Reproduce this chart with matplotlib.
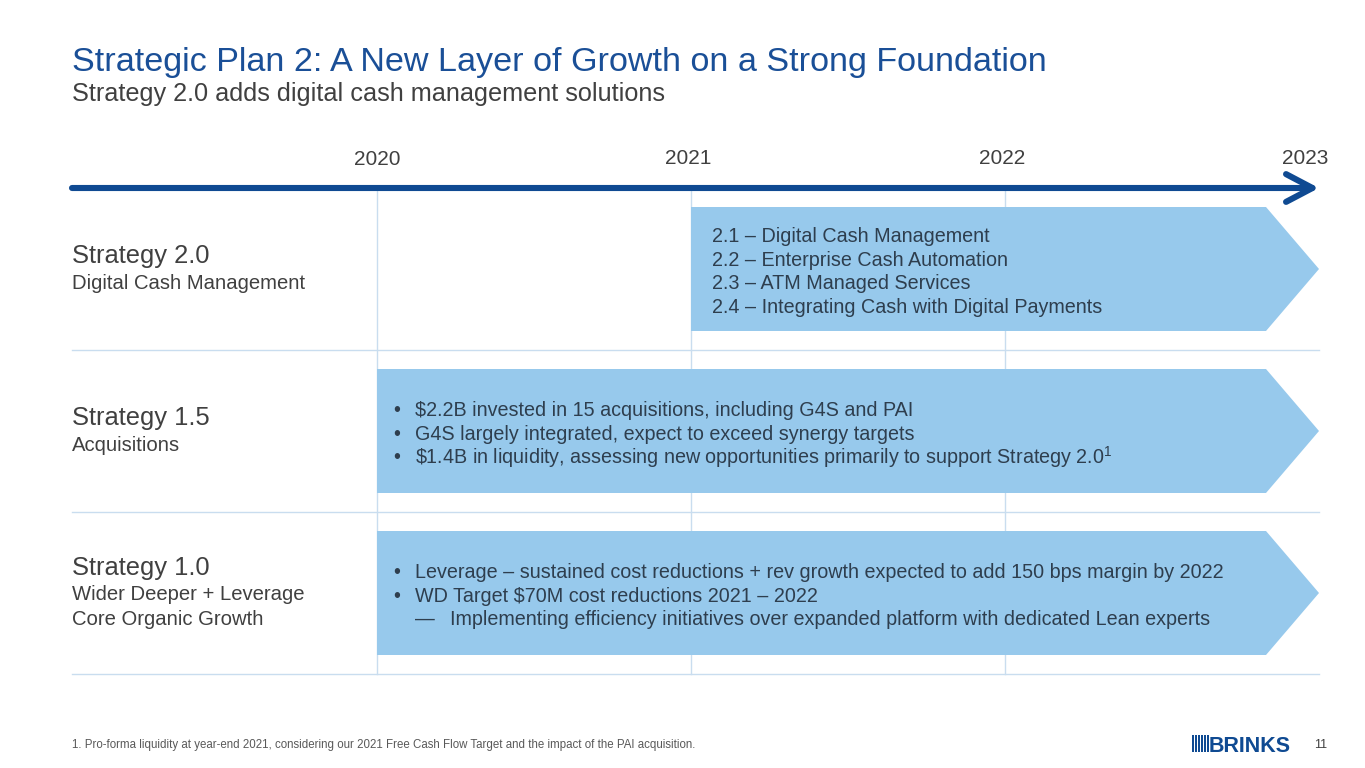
import matplotlib
matplotlib.use("Agg")
import matplotlib.pyplot as plt
from matplotlib.transforms import offset_copy
from matplotlib.patches import Rectangle

plt.rcParams['font.family'] = ['Liberation Sans', 'DejaVu Sans']

# --- data ---
years = [2020, 2021, 2022, 2023]
strategies = ["Strategy 2.0", "Strategy 1.5", "Strategy 1.0"]
subtitles = [["Digital Cash Management"],
             ["Acquisitions"],
             ["Wider Deeper + Leverage", "Core Organic Growth"]]
start_year = [2021, 2020, 2020]
end_year = [2023, 2023, 2023]
row_items = [
    [("", "2.1 – Digital Cash Management"),
     ("", "2.2 – Enterprise Cash Automation"),
     ("", "2.3 – ATM Managed Services"),
     ("", "2.4 – Integrating Cash with Digital Payments")],
    [("•", "$2.2B invested in 15 acquisitions, including G4S and PAI"),
     ("•", "G4S largely integrated, expect to exceed synergy targets"),
     ("•", r"\$1.4B in liquidity, assessing new opportunities primarily to support Strategy 2.0$^{\mathregular{1}}$")],
    [("•", "Leverage – sustained cost reductions + rev growth expected to add 150 bps margin by 2022"),
     ("•", "WD Target $70M cost reductions 2021 – 2022"),
     ("—", "Implementing efficiency initiatives over expanded platform with dedicated Lean experts")],
]
title = "Strategic Plan 2: A New Layer of Growth on a Strong Foundation"
subtitle = "Strategy 2.0 adds digital cash management solutions"
footnote = ("1. Pro-forma liquidity at year-end 2021, considering our 2021 Free Cash Flow "
            "Target and the impact of the PAI acquisition.")
page_no = "11"

# --- colours ---
dark_blue = "#0f4a92"
title_blue = "#1a4f97"
bar_blue = "#97c9ec"
grid_blue = "#c9ddef"
label_gray = "#404040"
bar_text = "#2e3e4e"

W, H = 1365, 768
fig = plt.figure(figsize=(W / 100, H / 100), dpi=100)
ax = fig.add_axes([0, 0, 1, 1])
ax.axis("off")

px_per_year = 314.0
px_per_row = 162.0
x0 = 2020 - 377 / px_per_year
ax.set_xlim(x0, x0 + W / px_per_year)
ax.set_ylim((H - 269) / px_per_row, -269 / px_per_row)

line_start = x0 + 72 / px_per_year
n_rows = len(strategies)

# grid
for i in range(n_rows):
    ax.plot([line_start, years[-1]], [i + 0.5, i + 0.5], color=grid_blue, lw=1, zorder=1)
for yr in years[:-1]:
    ax.plot([yr, yr], [-0.5, n_rows - 0.5], color=grid_blue, lw=1, zorder=1)

# timeline arrow
ax.annotate("", xy=(years[-1], -0.5), xytext=(line_start, -0.5),
            arrowprops=dict(arrowstyle="->,head_length=0.95,head_width=0.5",
                            lw=4.4, color=dark_blue, shrinkA=0, shrinkB=0,
                            capstyle="round", joinstyle="round", mutation_scale=20),
            zorder=4)
for k, yr in enumerate(years):
    last = k == len(years) - 1
    ha = "right" if last else "center"
    xx = yr + 0.03 if last else yr - (0.01 if k else 0.0)
    dy = 0.008 if k == 0 else 0.0
    ax.text(xx, -0.65 + dy, str(yr), ha=ha, va="baseline", fontsize=15, color=label_gray)

# bars
tip = 53 / px_per_year
bh = 124 / px_per_row
for i in range(n_rows):
    s, e = start_year[i], end_year[i]
    ax.fill([s, e - tip, e, e - tip, s],
            [i - bh / 2, i - bh / 2, i, i + bh / 2, i + bh / 2],
            color=bar_blue, lw=0, zorder=2)

# left labels
for i in range(n_rows):
    n_sub = len(subtitles[i])
    base = i - (6 + (n_sub - 1) * 12.5) / px_per_row
    ax.text(line_start, base, strategies[i], fontsize=18.4, color=label_gray, va="baseline")
    for j, sub in enumerate(subtitles[i]):
        ax.text(line_start, base + (26 + j * 24.5) / px_per_row, sub, fontsize=14.6,
                color=label_gray, va="baseline")

# bar text
fs = 14.2
line_gap = 23.5 / px_per_row
for i in range(n_rows):
    items = row_items[i]
    n = len(items)
    for j, (mark, txt) in enumerate(items):
        yc = i + (j - (n - 1) / 2) * line_gap + 3 / px_per_row
        if mark == "":
            offs = [(21, txt)]
        elif mark == "•":
            offs = [(16, mark), (38, txt)]
        else:
            offs = [(38, mark), (73, txt)]
        for dx, t in offs:
            tr = offset_copy(ax.transData, fig=fig, x=dx, y=0, units="dots")
            ax.text(start_year[i], yc, t, transform=tr, fontsize=fs, color=bar_text,
                    va="center", zorder=3)

# titles
fig.text(72 / W, 1 - 71 / H, title, fontsize=24.6, color=title_blue, va="baseline")
fig.text(72 / W, 1 - 101 / H, subtitle, fontsize=18.2, color=label_gray, va="baseline")

# footer
fig.text(72 / W, 1 - 748 / H, footnote, fontsize=8.3, color="#595959", va="baseline",
         family=["Liberation Sans Narrow", "Liberation Sans"])
fig.text(1327 / W, 1 - 748 / H, page_no, fontsize=9, color=label_gray, va="baseline", ha="right")

# logo
for k in range(6):
    fig.patches.append(Rectangle(((1192 + k * 3) / W, 1 - 752 / H), 1.5 / W, 17 / H,
                                 transform=fig.transFigure, facecolor=dark_blue, lw=0))
fig.text(1209 / W, 1 - 752 / H, "BRINKS", fontsize=15.5, fontweight="bold", color=dark_blue,
         va="baseline", family=["Liberation Sans Narrow", "Liberation Sans"])

fig.savefig("out.png", dpi=100)
